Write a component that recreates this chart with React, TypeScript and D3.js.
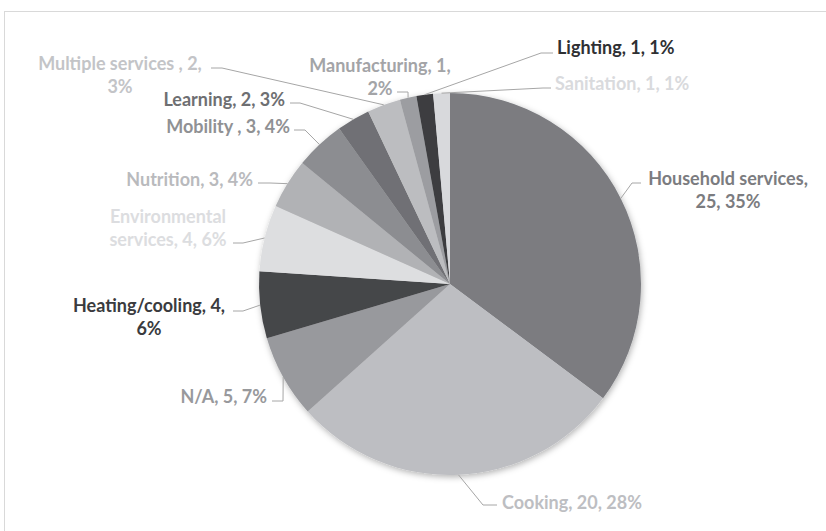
import React from "react";
import * as d3 from "d3";

const categories = [
  "Household services",
  "Cooking",
  "N/A",
  "Heating/cooling",
  "Environmental services",
  "Nutrition",
  "Mobility ",
  "Learning",
  "Multiple services ",
  "Manufacturing",
  "Lighting",
  "Sanitation",
];
const values = [25, 20, 5, 4, 4, 3, 3, 2, 2, 1, 1, 1];
const percents = ["35%", "28%", "7%", "6%", "6%", "4%", "4%", "3%", "3%", "2%", "1%", "1%"];

const sliceColors = [
  "#7b7c80", "#bdbec2", "#98999d", "#454649", "#dddee0", "#b1b2b5",
  "#8c8d91", "#6f7074", "#bcbdc0", "#9c9da1", "#3c3d40", "#d8d9dc",
];
const labelColors = [
  "#7b7c80", "#bdbec2", "#98999c", "#3a3b3e", "#dcdde0", "#b9babd",
  "#909194", "#6e6f72", "#c3c4c7", "#a3a4a7", "#2f3033", "#d9dadd",
];

// label layout: text anchor point, anchor, words on first line, leader elbow & end
const labelLayout = [
  { x: 728, y: 179, anchor: "middle", wrap: 2, elbow: [632, 183], end: [641, 183] },
  { x: 502, y: 503, anchor: "start", wrap: 0, elbow: [483, 505], end: [497, 505] },
  { x: 267, y: 397, anchor: "end", wrap: 0, elbow: [283, 401], end: [272, 401] },
  { x: 149, y: 306, anchor: "middle", wrap: 2, elbow: [243, 311], end: [233, 311] },
  { x: 168, y: 217, anchor: "middle", wrap: 1, elbow: [243, 243], end: [233, 243] },
  { x: 253, y: 180, anchor: "end", wrap: 0, elbow: [270, 183], end: [258, 183] },
  { x: 290, y: 127, anchor: "end", wrap: 0, elbow: [305, 130], end: [294, 130] },
  { x: 285, y: 100, anchor: "end", wrap: 0, elbow: [300, 103], end: [290, 103] },
  { x: 120, y: 64, anchor: "middle", wrap: 4, elbow: [222, 68], end: [211, 68] },
  { x: 380, y: 66, anchor: "middle", wrap: 2, elbow: [408, 92], end: [397, 92] },
  { x: 557, y: 48, anchor: "start", wrap: 0, elbow: [541, 53], end: [553, 53] },
  { x: 555, y: 84, anchor: "start", wrap: 0, elbow: [543, 88], end: [551, 88] },
];

const W = 826;
const H = 531;
const CX = 450;
const CY = 284;
const R = 191;
const LINE_H = 23;

export default function App() {
  const pie = d3.pie<number>().sort(null).value((d) => d)(values);
  const arc = d3.arc<d3.PieArcDatum<number>>().innerRadius(0).outerRadius(R);

  return (
    <svg
      width={W}
      height={H}
      style={{ position: "absolute", left: 0, top: 0, background: "#fff" }}
      fontFamily="Lato, 'Open Sans', sans-serif"
    >
      <defs>
        <filter id="shadow" x="-20%" y="-20%" width="140%" height="140%">
          <feDropShadow dx="1" dy="2" stdDeviation="3" floodColor="#000" floodOpacity="0.3" />
        </filter>
      </defs>
      <rect x={4.5} y={11.5} width={900} height={600} fill="#fff" stroke="#d9d9d9" strokeWidth={1} />
      <g transform={`translate(${CX},${CY})`} filter="url(#shadow)">
        {pie.map((d, i) => (
          <path key={i} d={arc(d) || ""} fill={sliceColors[i]} />
        ))}
      </g>
      {pie.map((d, i) => {
        const L = labelLayout[i];
        const mid = (d.startAngle + d.endAngle) / 2;
        const sx = CX + Math.sin(mid) * R;
        const sy = CY - Math.cos(mid) * R;
        const line = d3.line()([
          [sx, sy],
          [L.elbow[0], L.elbow[1]],
          [L.end[0], L.end[1]],
        ]);
        return <path key={i} d={line || ""} fill="none" stroke="#a6a6a6" strokeWidth={1} />;
      })}
      {categories.map((c, i) => {
        const L = labelLayout[i];
        const full = `${c}, ${values[i]}, ${percents[i]}`;
        const words = full.split(" ");
        const lines =
          L.wrap > 0 ? [words.slice(0, L.wrap).join(" "), words.slice(L.wrap).join(" ")] : [full];
        return (
          <text
            key={i}
            x={L.x}
            y={L.y}
            textAnchor={L.anchor}
            fill={labelColors[i]}
            fontSize={18}
            fontWeight={700}
          >
            {lines.map((t, j) => (
              <tspan key={j} x={L.x} y={L.y + j * LINE_H} dy="0.35em">
                {t}
              </tspan>
            ))}
          </text>
        );
      })}
    </svg>
  );
}
